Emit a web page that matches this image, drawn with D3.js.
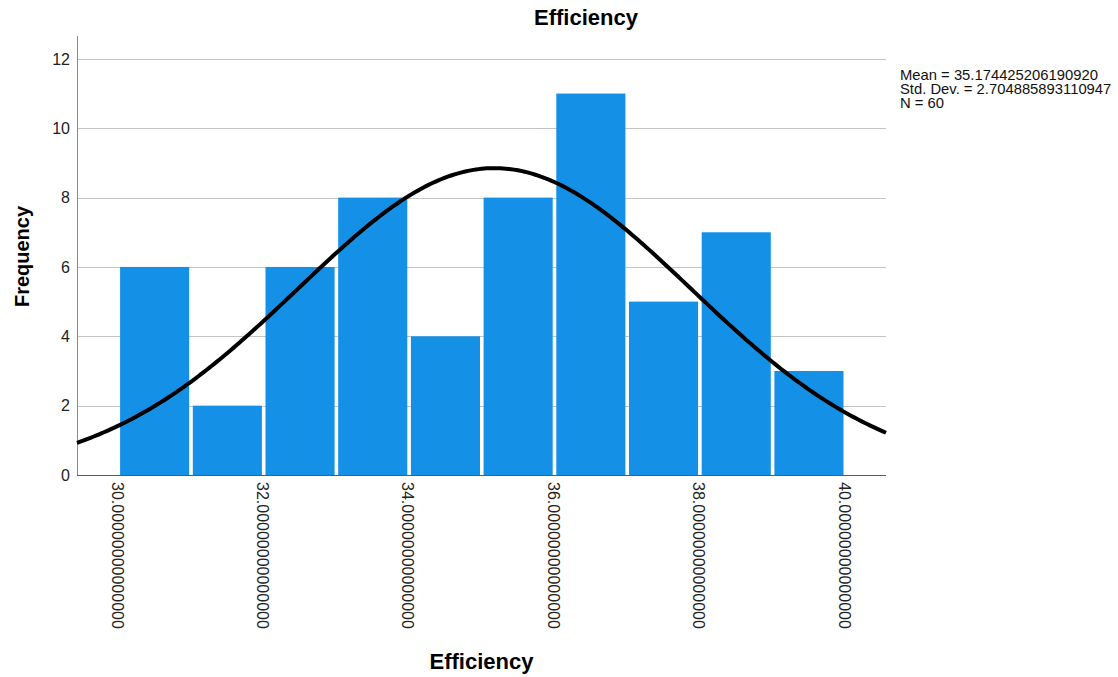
<!DOCTYPE html>
<html>
<head>
<meta charset="utf-8">
<script src="https://cdn.jsdelivr.net/npm/d3@7/dist/d3.min.js"></script>
<style>
  html, body { margin: 0; padding: 0; background: #fff; }
  svg { display: block; font-family: Arial, "Liberation Sans", sans-serif; }
</style>
</head>
<body>
<svg id="chart" width="1118" height="677"></svg>
<script>
// Histogram of Efficiency: bins of width 1 from 30 to 40
const binStarts = [30, 31, 32, 33, 34, 35, 36, 37, 38, 39];
const binWidth = 1;
const counts = [6, 2, 6, 8, 4, 8, 11, 5, 7, 3];
const xTicks = [30, 32, 34, 36, 38, 40];
const yTicks = [0, 2, 4, 6, 8, 10, 12];
const meanValue = 35.174425206190920;
const sdValue = 2.704885893110947;
const nValue = 60;
const statLines = [
  "Mean = 35.174425206190920",
  "Std. Dev. = 2.704885893110947",
  "N = 60"
];

const svg = d3.select("#chart");

const plot = { left: 77, right: 886, top: 36, bottom: 475 };

const x = d3.scaleLinear()
  .domain([29.432, 40.56])
  .range([plot.left, plot.right]);

const y = d3.scaleLinear()
  .domain([0, 12.66])
  .range([plot.bottom, plot.top]);

// horizontal gridlines
svg.append("g")
  .selectAll("line")
  .data(yTicks.filter(d => d > 0))
  .join("line")
  .attr("x1", plot.left)
  .attr("x2", plot.right)
  .attr("y1", d => Math.round(y(d)) + 0.5)
  .attr("y2", d => Math.round(y(d)) + 0.5)
  .attr("stroke", "#c4c4c4")
  .attr("stroke-width", 1);

// bars, with a small white gap between neighbours
const gap = 1.8;
const bins = binStarts.map((b, i) => ({ x0: b, x1: b + binWidth, n: counts[i] }));
svg.append("g")
  .selectAll("rect")
  .data(bins)
  .join("rect")
  .attr("x", d => x(d.x0) + gap)
  .attr("width", d => x(d.x1) - x(d.x0) - 2 * gap)
  .attr("y", d => y(d.n))
  .attr("height", d => y(0) - y(d.n))
  .attr("fill", "#1491e6");

// axes lines
svg.append("line")
  .attr("x1", plot.left + 0.5).attr("x2", plot.left + 0.5)
  .attr("y1", plot.top).attr("y2", plot.bottom)
  .attr("stroke", "#8a8a8a").attr("stroke-width", 1);
svg.append("line")
  .attr("x1", plot.left).attr("x2", plot.right)
  .attr("y1", plot.bottom + 0.5).attr("y2", plot.bottom + 0.5)
  .attr("stroke", "#5a5a5a").attr("stroke-width", 1);

// normal curve scaled to counts
const scaleFactor = nValue * binWidth;
const normal = v => scaleFactor / (sdValue * Math.sqrt(2 * Math.PI)) *
  Math.exp(-0.5 * Math.pow((v - meanValue) / sdValue, 2));
const [d0, d1] = x.domain();
const curvePts = d3.range(0, 301).map(i => d0 + (d1 - d0) * i / 300);
svg.append("path")
  .datum(curvePts)
  .attr("fill", "none")
  .attr("stroke", "#000")
  .attr("stroke-width", 4)
  .attr("stroke-linejoin", "round")
  .attr("d", d3.line().x(v => x(v)).y(v => y(normal(v))));

// y tick labels
svg.append("g")
  .selectAll("text")
  .data(yTicks)
  .join("text")
  .attr("x", 70)
  .attr("y", d => y(d))
  .attr("dy", "0.36em")
  .attr("text-anchor", "end")
  .attr("font-size", 16)
  .attr("fill", "#222")
  .text(d => d);

// x tick labels, rotated
const fmt = d3.format(".14f");
svg.append("g")
  .selectAll("text")
  .data(xTicks)
  .join("text")
  .attr("transform", d => `translate(${x(d) - 1},482) rotate(90)`)
  .attr("dy", "0.35em")
  .attr("text-anchor", "start")
  .attr("font-size", 16)
  .attr("fill", "#222")
  .text(d => fmt(d));

// titles
svg.append("text")
  .attr("x", 586).attr("y", 25)
  .attr("text-anchor", "middle")
  .attr("font-size", 22).attr("font-weight", "bold")
  .attr("fill", "#000")
  .text("Efficiency");

svg.append("text")
  .attr("x", (plot.left + plot.right) / 2).attr("y", 669)
  .attr("text-anchor", "middle")
  .attr("font-size", 22).attr("font-weight", "bold")
  .attr("fill", "#000")
  .text("Efficiency");

svg.append("text")
  .attr("transform", `translate(28.5,${(plot.top + plot.bottom) / 2 + 1}) rotate(-90)`)
  .attr("text-anchor", "middle")
  .attr("font-size", 20).attr("font-weight", "bold")
  .attr("fill", "#000")
  .text("Frequency");

// summary statistics
svg.append("g")
  .selectAll("text")
  .data(statLines)
  .join("text")
  .attr("x", 900)
  .attr("y", (d, i) => 80 + i * 14)
  .attr("font-size", 14.8)
  .attr("fill", "#111")
  .text(d => d);
</script>
</body>
</html>
